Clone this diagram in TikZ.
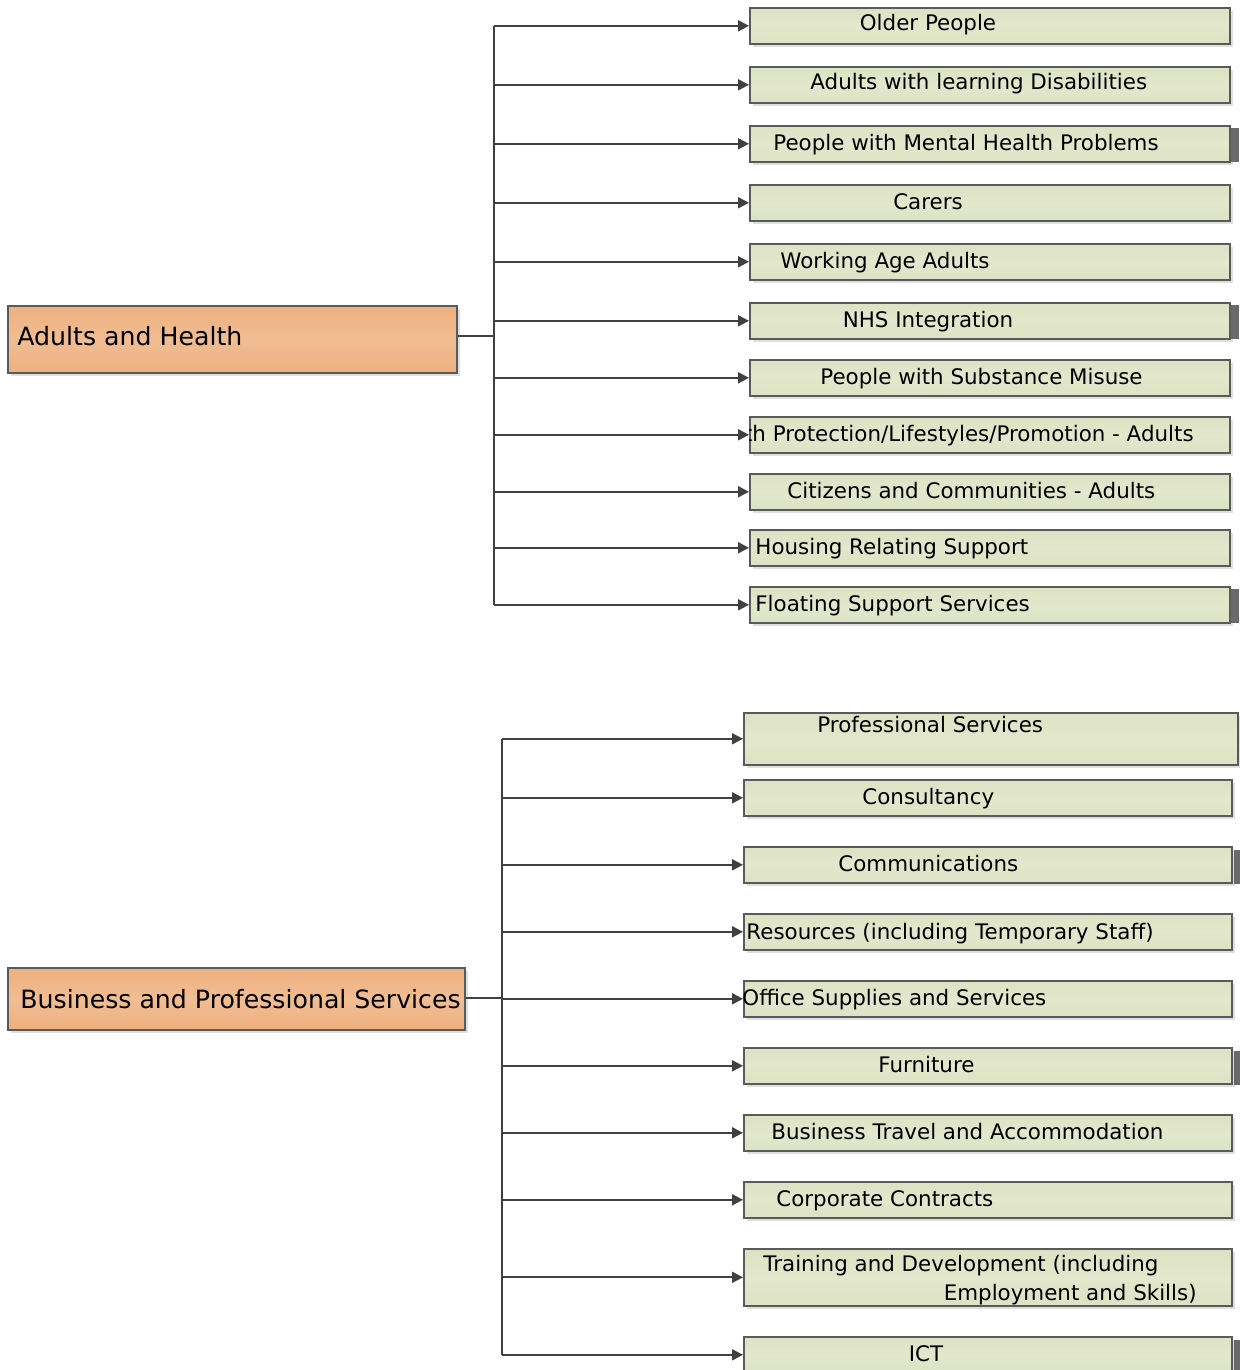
\documentclass[tikz,border=0pt]{standalone}
\usepackage{fontspec}
\setmainfont{DejaVu Sans}
\usetikzlibrary{arrows.meta,shadows}
\definecolor{boxgreen}{HTML}{DCE2C3}
\definecolor{boxgreenlt}{HTML}{E3E8CD}
\definecolor{boxorange}{HTML}{EEB07E}
\definecolor{boxorangelt}{HTML}{F1BD93}
\definecolor{linegray}{HTML}{404040}
\definecolor{edgegray}{HTML}{5A5A5A}
\definecolor{stripgray}{HTML}{6A6A6A}
\tikzset{
  catbox/.style={draw=edgegray, line width=1pt, inner sep=0pt, anchor=north west,
    top color=boxorange, bottom color=boxorange, middle color=boxorangelt,
    drop shadow={shadow xshift=1.5pt, shadow yshift=-1.5pt, fill=gray!25, opacity=1}},
  subbox/.style={draw=edgegray, line width=0.8pt, inner sep=0pt, anchor=north west,
    top color=boxgreen, bottom color=boxgreen, middle color=boxgreenlt,
    drop shadow={shadow xshift=1.5pt, shadow yshift=-1.5pt, fill=gray!25, opacity=1}},
  cattxt/.style={font=\fontsize{12.6}{15}\selectfont, inner sep=0pt, anchor=base west},
  subtxt/.style={font=\fontsize{10.7}{13}\selectfont, inner sep=0pt, anchor=base west},
  subtxtc/.style={font=\fontsize{10.7}{13}\selectfont, inner sep=0pt, anchor=base},
  link/.style={draw=linegray, line width=1pt},
  arr/.style={link, -{Triangle[length=5.5pt,width=5.5pt]}},
  strip/.style={fill=stripgray, draw=none, inner sep=0pt, anchor=north west}
}
\begin{document}
\begin{tikzpicture}[x=0.5pt,y=-0.5pt]
\useasboundingbox (0,0) rectangle (1240,1370);
% ---------- top section ----------
\node[catbox, minimum width=224.5pt, minimum height=33.5pt] (hA) at (7,305) {};
\node[cattxt] (hAt) at (17,345) {Adults and Health};
\coordinate (jA) at (494,336);

\node[subbox, minimum width=240pt, minimum height=18pt] (a1) at (749,7) {};
\node[subbox, minimum width=240pt, minimum height=18pt] (a2) at (749,66) {};
\node[subbox, minimum width=240pt, minimum height=18pt] (a3) at (749,125) {};
\node[subbox, minimum width=240pt, minimum height=18pt] (a4) at (749,184) {};
\node[subbox, minimum width=240pt, minimum height=18pt] (a5) at (749,243) {};
\node[subbox, minimum width=240pt, minimum height=18pt] (a6) at (749,302) {};
\node[subbox, minimum width=240pt, minimum height=18pt] (a7) at (749,359) {};
\node[subbox, minimum width=240pt, minimum height=18pt] (a8) at (749,416) {};
\node[subbox, minimum width=240pt, minimum height=18pt] (a9) at (749,473) {};
\node[subbox, minimum width=240pt, minimum height=18pt] (a10) at (749,529) {};
\node[subbox, minimum width=240pt, minimum height=18pt] (a11) at (749,586) {};

\node[subtxtc] (a1t) at (928,31) {Older People};
\node[subtxt] (a2t) at (810,90) {Adults with learning Disabilities};
\node[subtxt] (a3t) at (773,150) {People with Mental Health Problems};
\node[subtxtc] (a4t) at (928,209) {Carers};
\node[subtxt] (a5t) at (780,268) {Working Age Adults};
\node[subtxtc] (a6t) at (928,327) {NHS Integration};
\node[subtxt] (a7t) at (820,384) {People with Substance Misuse};
\begin{scope}
\clip (a8.north west) rectangle (a8.south east);
\node[subtxt, anchor=base east] (a8t) at (1194,441) {Health Protection/Lifestyles/Promotion - Adults};
\end{scope}
\node[subtxt] (a9t) at (787,498) {Citizens and Communities - Adults};
\node[subtxt] (a10t) at (755,554) {Housing Relating Support};
\node[subtxt] (a11t) at (755,611) {Floating Support Services};

\node[strip, minimum width=4pt, minimum height=17pt] (s1) at (1231,128) {};
\node[strip, minimum width=4pt, minimum height=17pt] (s2) at (1231,305) {};
\node[strip, minimum width=4pt, minimum height=17pt] (s3) at (1231,589) {};

\draw[link] (hA.east |- jA) -- (jA);
\draw[link] (jA |- a1.west) -- (jA |- a11.west);
\foreach \i in {1,...,11} { \draw[arr] (jA |- a\i.west) -- (a\i.west); }

% ---------- bottom section ----------
\node[catbox, minimum width=228.5pt, minimum height=31pt] (hB) at (7,967) {};
\node[cattxt] (hBt) at (20,1008) {Business and Professional Services};
\coordinate (jB) at (502,998);

\node[subbox, minimum width=247pt, minimum height=26pt] (b1) at (743,712) {};
\node[subbox, minimum width=244pt, minimum height=18pt] (b2) at (743,779) {};
\node[subbox, minimum width=244pt, minimum height=18pt] (b3) at (743,846) {};
\node[subbox, minimum width=244pt, minimum height=18pt] (b4) at (743,913) {};
\node[subbox, minimum width=244pt, minimum height=18pt] (b5) at (743,980) {};
\node[subbox, minimum width=244pt, minimum height=18pt] (b6) at (743,1047) {};
\node[subbox, minimum width=244pt, minimum height=18pt] (b7) at (743,1114) {};
\node[subbox, minimum width=244pt, minimum height=18pt] (b8) at (743,1181) {};
\node[subbox, minimum width=244pt, minimum height=28.5pt] (b9) at (743,1248) {};
\node[subbox, minimum width=244pt, minimum height=18pt] (b10) at (743,1336) {};

\node[subtxt] (b1t) at (817,732) {Professional Services};
\node[subtxt] (b2t) at (862,804) {Consultancy};
\node[subtxt] (b3t) at (838,871) {Communications};
\node[subtxt] (b4t) at (746,939) {Resources (including Temporary Staff)};
\node[subtxt] (b5t) at (742,1005) {Office Supplies and Services};
\node[subtxt] (b6t) at (878,1072) {Furniture};
\node[subtxt] (b7t) at (771,1139) {Business Travel and Accommodation};
\node[subtxt] (b8t) at (776,1206) {Corporate Contracts};
\node[subtxt] (b9t) at (763,1271) {Training and Development (including};
\node[subtxt, anchor=base east] (b9u) at (1197,1300) {Employment and Skills)};
\node[subtxtc] (b10t) at (926,1361) {ICT};

\node[strip, minimum width=3pt, minimum height=17pt] (s4) at (1234,850) {};
\node[strip, minimum width=3pt, minimum height=17pt] (s5) at (1234,1051) {};
\node[strip, minimum width=3pt, minimum height=17pt] (s6) at (1234,1340) {};

\draw[link] (hB.east |- jB) -- (jB);
\draw[link] (jB |- b1.west) -- (jB |- b10.west);
\foreach \i in {1,...,10} { \draw[arr] (jB |- b\i.west) -- (b\i.west); }
\end{tikzpicture}
\end{document}
